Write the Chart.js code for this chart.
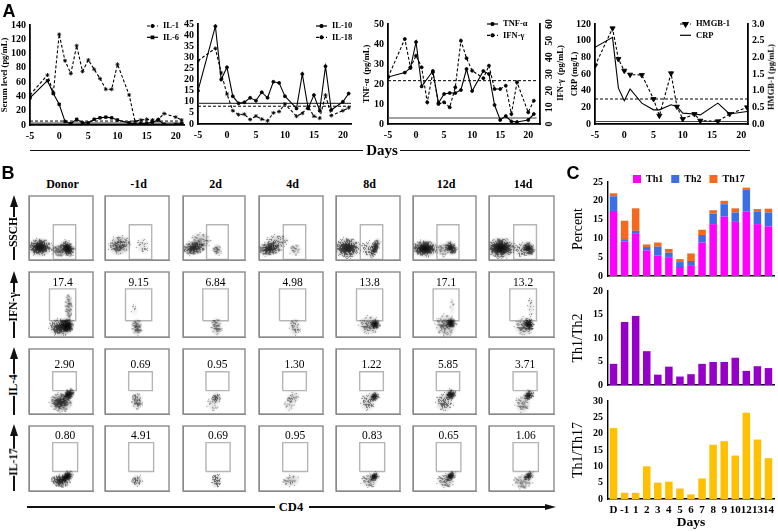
<!DOCTYPE html>
<html>
<head>
<meta charset="utf-8">
<script src="https://cdn.jsdelivr.net/npm/chart.js@4/dist/chart.umd.js"></script>
<style>
html, body { margin: 0; padding: 0; background: #fff; }
#page { position: relative; width: 778px; height: 532px; overflow: hidden; font-family: 'Liberation Serif', serif; color: #000; }
canvas { position: absolute; }
.t { position: absolute; white-space: nowrap; transform: translate(-50%, -50%); font-weight: bold; line-height: 1; }
.letter { font-family: 'Liberation Sans', sans-serif; font-size: 18px; }
.r { background: #fff; padding: 1px 0; transform: translate(-50%, -50%) rotate(-90deg); font-size: 11.5px; }
.side { transform: translate(-50%, -50%) rotate(-90deg); white-space: pre; }
.l { position: absolute; background: #111; }
.up { position: absolute; width: 0; height: 0; border-left: 4px solid transparent; border-right: 4px solid transparent; border-bottom: 12px solid #111; }
.right { position: absolute; width: 0; height: 0; border-top: 3px solid transparent; border-bottom: 3px solid transparent; border-left: 11px solid #111; }
</style>
</head>
<body>
<div id="page"></div>
<script>
// panel A, serum levels
var il1Days = [-5,-2,-1,0,1,2,3,4,5,6,7,8,9,10,12,13,14,15,16,17,18,20,21]
var il1 = [42,70,45,127,90,72,111,75,91,78,65,50,50,85,42,5,7,8,7,8,16,11,7]
var il6 = [38,62,44,29,5,2,8,3,3,8,10,11,10,7,3,1,2,2,4,7,1,1,2]
var il1Normal = 5.5
var il6Normal = 2.5

var il10 = [15,44,20,25.5,12.5,9.3,9.8,11.8,10.5,14.3,11.8,19,18.5,12.5,7,22.5,7,13,6,26,6.3,10,13.7]
var il18 = [28.5,34,23,13.5,6,4.2,4.4,2,3.6,2.2,1.4,5,5.6,9,3.5,4.8,7.8,3.5,2.6,13,3.8,6,7.3]
var il10Normal = 9.3
var il18Normal = 8

var tnfDays = [-5,-2,-1,0,1,3,4,5,6,7,8,9,10,12,13,14,15,16,17,18,20,21]
var tnf = [23.5,25.7,28,41,18.8,26.5,10.5,15,15.5,15.5,17,27.5,16.5,26.5,25,9.5,2,4,1.3,1,2,5]
var ifnDays = [-5,-2,-1,0,1,2,3,4,5,6,7,8,9,10,12,13,14,15,16,17,18,20,21]
var ifn = [28,51,34,41,34,13,31,12,13,10,22,50,39.5,32,27.5,35,21,21,23,6,25,7,14]
var tnfNormal = 3
var ifnNormal = 26

var crpDays = [-5,-2,-1,0,1,3,5,6,8,9,10,12,13,16,18,21]
var crp = [92,104,43,28,42,25,17,17,23,21,13,12,11,25,12,15]
var hmgb = [1.75,2.87,1.95,1.6,1.48,1.47,0.75,0.25,1.52,0.52,0.15,0.3,0.1,0.08,0.3,0.5]
var crpNormal = 3
var hmgbNormal = 0.75

// panel B, flow plots
var flowColumns = ['Donor','-1d','2d','4d','8d','12d','14d']
var flowRows = ['SSCH','IFN-γ','IL-4','IL-17']
var ifnPercent = ['17.4','9.15','6.84','4.98','13.8','17.1','13.2']
var il4Percent = ['2.90','0.69','0.95','1.30','1.22','5.85','3.71']
var il17Percent = ['0.80','4.91','0.69','0.95','0.83','0.65','1.06']
// gate corners: x0, x1, y0, y1 on a 0-100 axis
var sscGate = [38,73,1,55]
var ifnGate = [32,73,25,74]
var il4Gate = [37,74,36,65]
var il17Gate = [37,76,30,74.5]
// cell clouds: x, y, spreadX, spreadY, density, tilt
var sscClouds = [
  [[17,20,20,15,.95,0],[60,18,11,15,1,-30],[47,15,12,11,.6,0]],
  [[23,23,19,16,.62,-20],[59,22,11,14,.2,0]],
  [[18,19,21,12,.8,-10],[29,31,17,13,.36,0],[55,16,8,10,.5,0]],
  [[17,18,21,12,.8,-10],[29,30,19,11,.36,0],[57,16,10,11,.3,0]],
  [[18,19,21,17,.85,0],[61,19,7,17,.8,20],[50,17,13,14,.3,0]],
  [[19,18,22,14,1,0],[60,19,10,13,.9,-30],[47,16,10,12,.35,0]],
  [[18,19,23,17,1,0],[61,18,10,13,.9,-20],[50,16,13,13,.35,0]]
]
var ifnClouds = [
  [[60,18,11,13,1,0],[50,15,20,15,.8,0],[62,46,7,23,.42,0]],
  [[50,15,9,14,.55,0],[46,42,6,13,.1,0]],
  [[54,16,10,15,.42,0]],
  [[56,15,10,15,.32,0]],
  [[61,20,9,9,.95,0],[52,18,18,16,.42,0]],
  [[60,22,9,9,.95,0],[52,18,18,18,.46,0],[62,46,5,16,.14,0]],
  [[61,20,9,11,.9,0],[54,16,16,16,.42,0],[64,46,6,18,.18,0]]
]
var il4Clouds = [
  [[62,30,12,8,1,-45],[50,18,19,16,.78,0]],
  [[50,20,10,15,.45,0]],
  [[54,25,9,9,.55,0],[48,15,11,13,.18,0]],
  [[53,25,12,9,.36,-30],[48,13,11,11,.18,0]],
  [[60,27,9,8,.9,-45],[50,18,13,15,.34,0]],
  [[60,30,10,9,.95,-45],[50,18,15,16,.44,0]],
  [[61,29,10,8,.9,-45],[52,15,13,15,.34,0]]
]
var il17Clouds = [
  [[60,23,11,8,1,-35],[50,16,17,11,.82,0]],
  [[50,16,10,10,.46,0]],
  [[54,16,9,13,.45,0]],
  [[50,16,15,10,.34,-15]],
  [[60,22,9,7,.95,-35],[52,16,14,12,.38,0]],
  [[60,23,10,7,.95,-35],[52,16,15,12,.44,0]],
  [[61,23,10,7,.85,-35],[52,14,16,12,.38,0]]
]

// panel C, T helper subsets
var subsetDays = ['D','-1','1','2','3','4','5','6','7','8','9','10','12','13','14']
var th1 = [17.3,9.2,11.2,6.8,5.4,5,2.4,2.7,8.9,13.8,15.8,14.4,17.2,13.8,13.2]
var th2 = [3.9,.6,.8,.9,2.4,1.2,1.3,1.3,2,2.8,3.3,2.5,5.7,3.4,3.7]
var th17 = [.8,4.9,6,.7,1.1,1,.8,2,1.4,.9,.9,1.1,.6,.6,1]
var th1th2 = [4.5,13.4,14.7,7.2,2.2,3.9,1.8,2.3,4.5,4.9,4.9,5.8,3,4,3.6]
var th1th17 = [21.7,1.9,1.9,10,5,5.3,3.2,1.4,6.3,16.6,17.7,13.3,26.4,18.2,12.5]

var page = document.getElementById('page')
var SERIF = "'Liberation Serif', serif"
var tickFont = { family: SERIF, size: 10, weight: 'bold' }

Chart.defaults.color = '#000'
Chart.defaults.animation = false
Chart.defaults.font.family = SERIF

function pts(days, vals) {
  return days.map((d, i) => ({ x: d, y: vals[i] }))
}

function makeCanvas(left, top, right, bottom) {
  var c = document.createElement('canvas')
  c.width = right - left
  c.height = bottom - top
  c.style.left = left + 'px'
  c.style.top = top + 'px'
  page.appendChild(c)
  return c
}

function addText(str, x, y, cls, size) {
  var d = document.createElement('div')
  d.className = 't ' + (cls || '')
  d.textContent = str
  d.style.left = x + 'px'
  d.style.top = y + 'px'
  if (size) d.style.fontSize = size + 'px'
  page.appendChild(d)
}

function addBar(x, y, w, h) {
  var d = document.createElement('div')
  d.className = 'l'
  d.style.cssText = 'left:' + x + 'px;top:' + y + 'px;width:' + w + 'px;height:' + h + 'px'
  page.appendChild(d)
}

function addHead(cls, x, y) {
  var d = document.createElement('div')
  d.className = cls
  d.style.left = x + 'px'
  d.style.top = y + 'px'
  page.appendChild(d)
}

// key with a line and marker, drawn inside the plot like in the figure
var lineKey = {
  id: 'lineKey',
  afterDraw(chart, args, opts) {
    var ctx = chart.ctx
    var row = 0
    chart.data.datasets.forEach(ds => {
      if (!ds.label) return
      var y = opts.y + row * 11.3
      ctx.save()
      ctx.strokeStyle = '#000'
      ctx.lineWidth = 1.2
      ctx.setLineDash(ds.borderDash || [])
      ctx.beginPath()
      ctx.moveTo(opts.x, y)
      ctx.lineTo(opts.x + 11, y)
      ctx.stroke()
      ctx.setLineDash([])
      if (ds.pointRadius) {
        Chart.helpers.drawPoint(ctx, {
          pointStyle: ds.pointStyle, radius: ds.pointRadius, rotation: ds.pointRotation || 0, borderWidth: 1
        }, opts.x + 5.5, y)
        ctx.fillStyle = '#000'
        ctx.fill()
      }
      ctx.fillStyle = '#000'
      ctx.font = 'bold 8.5px ' + SERIF
      ctx.textBaseline = 'middle'
      ctx.fillText(ds.label, opts.x + 16, y)
      ctx.restore()
      row++
    })
  }
}

function series(label, data, style, dashed, radius, axis, rot) {
  return {
    label: label, data: data, yAxisID: axis || 'y',
    borderColor: '#000', backgroundColor: '#000', borderWidth: 1.1, tension: 0,
    borderDash: dashed ? [3, 2] : [], pointStyle: style, pointRadius: radius,
    pointRotation: rot || 0, pointBorderColor: '#000', pointBackgroundColor: '#000', pointBorderWidth: 0.8
  }
}

function normalLine(v, xMin, xMax, dashed, axis) {
  return {
    data: [{ x: xMin, y: v }, { x: xMax, y: v }], yAxisID: axis || 'y',
    borderColor: dashed ? '#000' : '#444', borderWidth: dashed ? 1 : 1.2,
    borderDash: dashed ? [3, 2] : [], pointRadius: 0, tension: 0
  }
}

function valueAxis(max, step, title, width, position, rotated, format) {
  var ax = {
    position: position || 'left', min: 0, max: max,
    afterFit: s => { s.width = width },
    grid: { display: false, drawTicks: true, tickLength: 3, tickWidth: 1.5, tickColor: '#000' },
    border: { color: '#000', width: 1.8 },
    ticks: { stepSize: step, autoSkip: false, font: tickFont, padding: 1, includeBounds: false },
    title: title ? { display: true, text: title, font: { family: SERIF, size: 8.5, weight: 'bold' }, padding: { top: 0, bottom: 0 } } : { display: false }
  }
  if (rotated) {
    ax.ticks.minRotation = 90
    ax.ticks.maxRotation = 90
    ax.ticks.crossAlign = 'center'
  }
  if (format) ax.ticks.callback = format
  return ax
}

function lineChart(plot, leftW, rightW, xMax, datasets, yScales, key) {
  var pad = rightW ? 0 : 8
  var left = Math.round(plot[0] - leftW)
  var c = makeCanvas(left, plot[1] - 8, plot[2] + (rightW || 8), plot[3] + 18)
  var scales = Object.assign({
    x: {
      type: 'linear', min: -5, max: xMax,
      afterFit: s => { s.height = 18 },
      grid: { display: false, tickLength: 4, tickWidth: 1.5, tickColor: '#000' },
      border: { color: '#000', width: 1.8 },
      ticks: { stepSize: 5, autoSkip: false, font: tickFont, padding: 1, includeBounds: false, maxRotation: 0 }
    }
  }, yScales)
  return new Chart(c, {
    type: 'line',
    data: { datasets: datasets },
    options: {
      responsive: false, devicePixelRatio: 1,
      layout: { padding: { top: 8, right: pad } },
      plugins: { legend: { display: false }, tooltip: { enabled: false }, lineKey: { x: key[0] - left, y: key[1] - (plot[1] - 8) } },
      scales: scales
    },
    plugins: [lineKey]
  })
}

// panel A
lineChart([30, 25, 184, 125], 30, 0, 21.4, [
  series('IL-1', pts(il1Days, il1), 'star', true, 2),
  series('IL-6', pts(il1Days, il6), 'rect', false, 1.8),
  normalLine(il1Normal, -5, 21.4, true),
  normalLine(il6Normal, -5, 21.4, false)
], { y: valueAxis(140, 20, 'Serum level (pg/mL)', 30) }, [147, 26])

lineChart([198, 24, 351, 124], 18, 0, 21.4, [
  series('IL-10', pts(il1Days, il10), 'circle', false, 1.5),
  series('IL-18', pts(il1Days, il18), 'star', true, 2),
  normalLine(il10Normal, -5, 21.4, false),
  normalLine(il18Normal, -5, 21.4, true)
], { y: valueAxis(45, 5, null, 18) }, [316, 26])

lineChart([388, 24, 540, 124], 26, 25, 22.1, [
  series('TNF-α', pts(tnfDays, tnf), 'circle', false, 1.5),
  series('IFN-γ', pts(ifnDays, ifn), 'circle', true, 1.5, 'y1'),
  normalLine(tnfNormal, -5, 21.5, false),
  normalLine(ifnNormal, -5, 21.5, true, 'y1')
], {
  y: valueAxis(50, 10, 'TNF-α  (pg/mL)', 26),
  y1: valueAxis(60, 10, null, 25, 'right', true)
}, [487, 24])

lineChart([595, 24, 748, 124], 25, 28, 21.15, [
  series('HMGB-1', pts(crpDays, hmgb), 'triangle', true, 3, 'y1', 180),
  series('CRP', pts(crpDays, crp), false, false, 0),
  normalLine(hmgbNormal, -5, 21.15, true, 'y1'),
  normalLine(crpNormal, -5, 21.15, false)
], {
  y: valueAxis(120, 20, 'CRP (mg/L)', 25),
  y1: valueAxis(3, 0.5, null, 28, 'right', false, v => v.toFixed(1))
}, [680, 24])

// right axis titles read upward here, Chart.js would turn them the other way
addText('IFN-γ  (pg/mL)', 560, 73, 'side', 8.5)
addText('HMGB-1 (pg/mL)', 771, 77, 'side', 8.5)

addText('A', 9, 11, 'letter')
addBar(30, 149.5, 333, 1.8)
addText('Days', 382, 150, '', 15)
addBar(400, 149.5, 350, 1.8)

// panel B
var colX = [[27, 96], [103, 172], [181, 248], [257, 326], [334, 403], [411, 479], [487, 557]]
var rowY = [[193, 262], [269, 339], [346, 416], [423, 493]]
var gates = [sscGate, ifnGate, il4Gate, il17Gate]
var clouds = [sscClouds, ifnClouds, il4Clouds, il17Clouds]
var percents = [null, ifnPercent, il4Percent, il17Percent]

// shades a cloud as grainy density so it reads like dots on a flow plot, only a texture
var sprites = {}
function cloudSprite(cl, sx, sy) {
  var rx = Math.max(2, cl[2] * sx), ry = Math.max(2, cl[3] * sy)
  var key = [rx, ry, cl[4]].join()
  if (sprites[key]) return sprites[key]
  var s = document.createElement('canvas')
  s.width = Math.ceil(rx * 2)
  s.height = Math.ceil(ry * 2)
  var g = s.getContext('2d')
  var img = g.createImageData(s.width, s.height)
  for (var py = 0; py < s.height; py++) {
    for (var px = 0; px < s.width; px++) {
      var dx = (px + 0.5 - s.width / 2) / rx, dy = (py + 0.5 - s.height / 2) / ry
      var d2 = dx * dx + dy * dy
      if (d2 >= 1) continue
      var dens = cl[4] * Math.pow(1 - d2, 1.5)
      var h = Math.sin(px * 12.9898 + py * 78.233) * 43758.5453
      var thr = h - Math.floor(h)
      var a = 0.55 * dens + (dens * 1.3 > thr ? 0.4 : 0)
      img.data[4 * (py * s.width + px) + 3] = Math.min(255, a * 255)
    }
  }
  g.putImageData(img, 0, 0)
  sprites[key] = s
  return s
}

var flowFrame = {
  id: 'flowFrame',
  afterDraw(chart, args, opts) {
    var a = chart.chartArea, ctx = chart.ctx
    ctx.save()
    ctx.strokeStyle = '#8a8a8a'
    ctx.lineWidth = 1.4
    ctx.strokeRect(a.left, a.top, a.right - a.left, a.bottom - a.top)
    if (opts.text) {
      ctx.fillStyle = '#000'
      ctx.font = '11.5px ' + SERIF
      ctx.textAlign = 'center'
      ctx.textBaseline = 'bottom'
      ctx.fillText(opts.text, chart.scales.x.getPixelForValue(opts.x), chart.scales.y.getPixelForValue(opts.y))
    }
    ctx.restore()
  }
}

function flowAxis(pos) {
  return {
    position: pos, min: 0, max: 100,
    afterFit: s => { if (pos === 'left') s.width = 3; else s.height = 3 },
    grid: { display: false, tickLength: 2, tickWidth: 1, tickColor: '#777' },
    border: { color: '#8a8a8a', width: 1 },
    ticks: { display: false, stepSize: 20 }
  }
}

rowY.forEach((ry, r) => {
  colX.forEach((cx, c) => {
    var cv = makeCanvas(cx[0] - 3, ry[0] - 2, cx[1] + 2, ry[1] + 3)
    var list = clouds[r][c]
    var sx = (cx[1] - cx[0]) / 100, sy = (ry[1] - ry[0]) / 100
    var g = gates[r]
    new Chart(cv, {
      type: 'scatter',
      data: {
        datasets: [
          {
            type: 'line', order: 2, borderColor: '#b5b5b5', borderWidth: 1.4, pointRadius: 0, tension: 0,
            data: [{ x: g[0], y: g[2] }, { x: g[1], y: g[2] }, { x: g[1], y: g[3] }, { x: g[0], y: g[3] }, { x: g[0], y: g[2] }]
          },
          {
            order: 1,
            data: list.map(cl => ({ x: cl[0], y: cl[1] })),
            pointStyle: ctx => cloudSprite(list[ctx.dataIndex], sx, sy),
            pointRotation: ctx => list[ctx.dataIndex][5]
          }
        ]
      },
      options: {
        responsive: false, devicePixelRatio: 1,
        layout: { padding: { top: 2, right: 2 } },
        plugins: {
          legend: { display: false }, tooltip: { enabled: false },
          flowFrame: percents[r] ? { text: percents[r][c], x: (g[0] + g[1]) / 2, y: g[3] + 1 } : {}
        },
        scales: { x: flowAxis('bottom'), y: flowAxis('left') }
      },
      plugins: [flowFrame]
    })
  })
})

addText('B', 8, 173, 'letter')
flowColumns.forEach((name, c) => addText(name, (colX[c][0] + colX[c][1]) / 2 + 1, 184, '', 12))

// row titles with their upward arrows
var arrowTop = [195, 271, 347, 424]
var arrowBottom = [260, 338, 415, 491]
var labelY = [232, 307, 385, 462]
flowRows.forEach((name, r) => {
  addHead('up', 10, arrowTop[r])
  addBar(13.2, arrowTop[r] + 8, 1.6, arrowBottom[r] - arrowTop[r] - 8)
  addText(name, 14, labelY[r], 'r')
})

addBar(27, 506, 248, 1.8)
addText('CD4', 291, 507, '', 12.5)
addBar(309, 506, 238, 1.8)
addHead('right', 545, 504)

// panel C
function barAxisX(showLabels, bottom) {
  return {
    stacked: true,
    afterFit: s => { s.height = bottom },
    grid: { display: false, offset: true, tickLength: 3, tickWidth: 1.2, tickColor: '#000' },
    border: { color: '#000', width: 1.4 },
    ticks: { display: showLabels, autoSkip: false, maxRotation: 0, font: { family: SERIF, size: 11, weight: 'bold' }, padding: 2 },
    title: showLabels ? { display: true, text: 'Days', font: { family: SERIF, size: 13.5, weight: 'bold' }, padding: { top: 1, bottom: 1 } } : { display: false }
  }
}

function barChart(top, bottom, canvasBottom, labels, datasets, max, title, showLabels) {
  var c = makeCanvas(570, top - 8, 778, canvasBottom)
  return new Chart(c, {
    type: 'bar',
    data: { labels: labels, datasets: datasets },
    options: {
      responsive: false, devicePixelRatio: 1,
      layout: { padding: { top: 8, right: 4 } },
      plugins: { legend: { display: false }, tooltip: { enabled: false } },
      scales: {
        x: barAxisX(showLabels, canvasBottom - bottom),
        y: {
          stacked: true, min: 0, max: max,
          afterFit: s => { s.width = 38 },
          grid: { display: false, tickLength: 3, tickWidth: 1.2, tickColor: '#000' },
          border: { color: '#000', width: 1.4 },
          ticks: { stepSize: 5, autoSkip: false, font: tickFont, padding: 2 },
          title: { display: true, text: title, font: { family: SERIF, size: 14 }, padding: { top: 0, bottom: 0 } }
        }
      }
    }
  })
}

function bars(label, vals, color) {
  return { label: label, data: vals, backgroundColor: color, barPercentage: 0.68, categoryPercentage: 1 }
}

barChart(182, 280, 284, subsetDays, [
  bars('Th1', th1, '#ff00ff'),
  bars('Th2', th2, '#3b6fe3'),
  bars('Th17', th17, '#f4691e')
], 25, 'Percent', false)
barChart(291, 389, 393, subsetDays, [bars('Th1/Th2', th1th2, '#9400c8')], 20, 'Th1/Th2', false)
barChart(401, 499, 532, subsetDays, [bars('Th1/Th17', th1th17, '#ffc000')], 30, 'Th1/Th17', true)

addText('C', 573, 173, 'letter')
// colour key above the stacked bars, canvas runs under the plot but stays transparent there
var keyCanvas = makeCanvas(625, 166, 778, 226)
new Chart(keyCanvas, {
  type: 'bar',
  data: { labels: ['a'], datasets: [bars('Th1', [0], '#ff00ff'), bars('Th2', [0], '#3b6fe3'), bars('Th17', [0], '#f4691e')] },
  options: {
    responsive: false, devicePixelRatio: 1,
    plugins: {
      tooltip: { enabled: false },
      legend: { position: 'top', align: 'start', labels: { boxWidth: 8, boxHeight: 8, padding: 8, font: { family: SERIF, size: 10, weight: 'bold' } } }
    },
    scales: { x: { display: false }, y: { display: false } }
  }
})
</script>
</body>
</html>
